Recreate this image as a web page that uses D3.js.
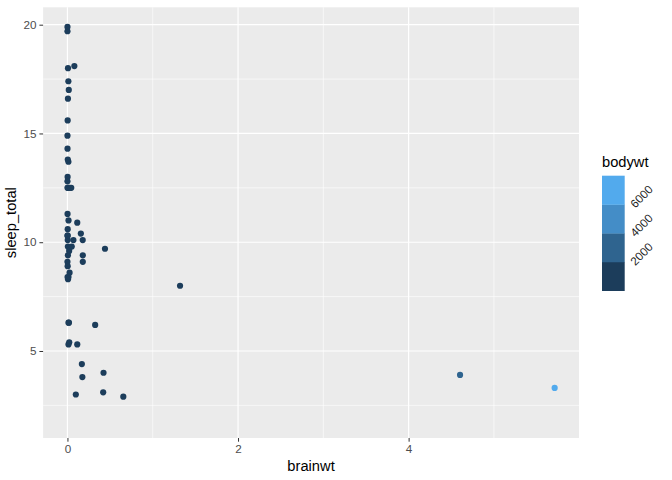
<!DOCTYPE html>
<html>
<head>
<meta charset="utf-8">
<script src="https://cdn.jsdelivr.net/npm/d3@7"></script>
<style>
  body { margin: 0; background: #fff; }
  text { font-family: "Liberation Sans", Arial, sans-serif; }
</style>
</head>
<body>
<div id="chart"></div>
<script>
// msleep: brainwt, sleep_total, bodywt (null brainwt rows are dropped but still train the y scale)
const animals = ['Owl monkey','Greater short-tailed shrew','Cow','Dog','Roe deer','Goat','Guinea pig','Chinchilla',
  'Star-nosed mole','African giant pouched rat','Lesser short-tailed shrew','Long-nosed armadillo','Tree hyrax',
  'North American Opossum','Asian elephant','Big brown bat','Horse','Donkey','European hedgehog','Patas monkey',
  'Domestic cat','Galago','Gray seal','Gray hyrax','Human','African elephant','Macaque','Golden hamster',
  'House mouse','Little brown bat','Slow loris','Rabbit','Sheep','Chimpanzee','Jaguar','Baboon','Desert hedgehog',
  'Phalanger','Giant armadillo','Rock hyrax','Laboratory rat','Squirrel monkey','Eastern american mole','Cotton rat',
  'Mole rat','Arctic ground squirrel','Thirteen-lined ground squirrel','Musk shrew','Pig','Short-nosed echidna',
  'Brazilian tapir','Tenrec','Tree shrew','Genet','Arctic fox','Red fox','Giraffe','Pilot whale'];

const brainwt = [0.0155,0.00029,0.423,0.070,0.0982,0.115,0.0055,0.0064,
  0.001,0.0066,0.00014,0.0108,0.0123,
  0.0063,4.603,0.0003,0.655,0.419,0.0035,0.115,
  0.0256,0.005,0.325,0.01227,1.32,5.712,0.179,0.001,
  0.0004,0.00025,0.0125,0.0121,0.175,0.44,0.157,0.18,0.0024,
  0.0114,0.081,0.021,0.0019,0.02,0.0012,0.00118,
  0.003,0.0057,0.004,0.00033,0.18,0.025,
  0.169,0.0026,0.0025,0.0175,0.0445,0.0504,null,null];

const sleepTotal = [17.0,14.9,4.0,10.1,3.0,5.3,9.4,12.5,
  10.3,8.3,9.1,17.4,5.3,
  18.0,3.9,19.7,2.9,3.1,10.1,10.9,
  12.5,9.8,6.2,6.3,8.0,3.3,10.1,14.3,
  12.5,19.9,11.0,8.4,3.8,9.7,10.4,9.4,10.3,
  13.7,18.1,5.4,13.0,9.6,8.4,11.3,
  10.6,16.6,13.8,12.8,9.1,8.6,
  4.4,15.6,8.9,6.3,12.5,9.8,1.9,2.7];

const bodywt = [0.48,0.019,600,14,14.8,33.5,0.728,0.42,
  0.06,1,0.005,3.5,2.95,
  1.7,2547,0.023,521,187,0.77,10,
  3.3,0.2,85,2.625,62,6654,6.8,0.12,
  0.022,0.01,1.4,2.5,55.5,52.2,100,25.235,0.55,
  1.62,60,3.6,0.32,0.743,0.075,0.148,
  0.122,0.92,0.101,0.048,86.25,4.5,
  207.501,0.9,0.104,2,3.38,4.23,899.995,800];

const xBreaks = [0, 2, 4];
const xMinor = [1, 3, 5];
const yBreaks = [5, 10, 15, 20];
const yMinor = [2.5, 7.5, 12.5, 17.5];
const colourBreaks = [2000, 4000, 6000];

const W = 672, H = 480;
const panel = { left: 43.1, right: 579, top: 7.3, bottom: 438 };

const svg = d3.select('#chart').append('svg')
  .attr('width', W).attr('height', H);

// ggplot-style 5% expansion
function expand(ext) {
  const pad = (ext[1] - ext[0]) * 0.05;
  return [ext[0] - pad, ext[1] + pad];
}

const rows = sleepTotal.map((s, i) => ({ name: animals[i], x: brainwt[i], y: s, w: bodywt[i] }));
const pts = rows.filter(d => d.x != null);

const x = d3.scaleLinear()
  .domain(expand(d3.extent(pts, d => d.x)))
  .range([panel.left, panel.right]);
const y = d3.scaleLinear()
  .domain(expand(d3.extent(rows, d => d.y)))
  .range([panel.bottom, panel.top]);

// binned colour: colours at bin midpoints, like scale_colour_binned
const wExt = d3.extent(pts, d => d.w);
const allBreaks = [wExt[0], ...colourBreaks, wExt[1]];
const lab = d3.interpolateLab('#132B43', '#56B1F7');
const resc = d3.scaleLinear().domain(wExt).range([0, 1]);
const binColours = d3.range(allBreaks.length - 1)
  .map(i => lab((resc(allBreaks[i]) + resc(allBreaks[i + 1])) / 2));
const colour = d3.scaleThreshold().domain(colourBreaks).range(binColours);

// panel
svg.append('rect')
  .attr('x', panel.left).attr('y', panel.top)
  .attr('width', panel.right - panel.left)
  .attr('height', panel.bottom - panel.top)
  .attr('fill', '#EBEBEB');

const grid = svg.append('g');
grid.selectAll('.xminor').data(xMinor).join('line')
  .attr('x1', d => x(d)).attr('x2', d => x(d))
  .attr('y1', panel.top).attr('y2', panel.bottom)
  .attr('stroke', '#fff').attr('stroke-width', 0.6);
grid.selectAll('.yminor').data(yMinor).join('line')
  .attr('y1', d => y(d)).attr('y2', d => y(d))
  .attr('x1', panel.left).attr('x2', panel.right)
  .attr('stroke', '#fff').attr('stroke-width', 0.6);
grid.selectAll('.xmajor').data(xBreaks).join('line')
  .attr('x1', d => x(d)).attr('x2', d => x(d))
  .attr('y1', panel.top).attr('y2', panel.bottom)
  .attr('stroke', '#fff').attr('stroke-width', 1.2);
grid.selectAll('.ymajor').data(yBreaks).join('line')
  .attr('y1', d => y(d)).attr('y2', d => y(d))
  .attr('x1', panel.left).attr('x2', panel.right)
  .attr('stroke', '#fff').attr('stroke-width', 1.2);

// points
svg.append('g').selectAll('circle').data(pts).join('circle')
  .attr('cx', d => x(d.x))
  .attr('cy', d => y(d.y))
  .attr('r', 3.1)
  .attr('fill', d => colour(d.w));

// axes
const xAxis = svg.append('g')
  .attr('transform', `translate(0,${panel.bottom})`)
  .call(d3.axisBottom(x).tickValues(xBreaks).tickSize(3.7).tickPadding(3).tickFormat(d3.format('d')));
const yAxis = svg.append('g')
  .attr('transform', `translate(${panel.left},0)`)
  .call(d3.axisLeft(y).tickValues(yBreaks).tickSize(3.7).tickPadding(3).tickFormat(d3.format('d')));
[xAxis, yAxis].forEach(a => {
  a.select('.domain').remove();
  a.selectAll('.tick line').attr('stroke', '#333333').attr('stroke-width', 1);
  a.selectAll('.tick text')
    .attr('fill', '#4D4D4D')
    .style('font-size', '11.7px')
    .style('font-family', '"Liberation Sans", Arial, sans-serif');
});

svg.append('text')
  .attr('x', (panel.left + panel.right) / 2)
  .attr('y', 471)
  .attr('text-anchor', 'middle')
  .style('font-size', '14.7px')
  .text('brainwt');

svg.append('text')
  .attr('transform', `translate(16,${(panel.top + panel.bottom) / 2}) rotate(-90)`)
  .attr('text-anchor', 'middle')
  .style('font-size', '14.7px')
  .text('sleep_total');

// legend (colour steps, even heights)
const legend = { x: 602, y: 175.7, w: 22.7, h: 115 };
svg.append('text')
  .attr('x', legend.x).attr('y', 166.5)
  .style('font-size', '14.7px')
  .text('bodywt');

const step = legend.h / binColours.length;
svg.append('g').selectAll('rect').data(binColours).join('rect')
  .attr('x', legend.x)
  .attr('y', (d, i) => legend.y + legend.h - (i + 1) * step)
  .attr('width', legend.w)
  .attr('height', step + 0.3)
  .attr('fill', d => d);

svg.append('g').selectAll('text').data(colourBreaks).join('text')
  .attr('transform', (d, i) => `translate(633,${legend.y + legend.h - (i + 1) * step + 2}) rotate(-45)`)
  .attr('dominant-baseline', 'middle')
  .attr('fill', '#1A1A1A')
  .style('font-size', '11.7px')
  .text(d => d);
</script>
</body>
</html>
